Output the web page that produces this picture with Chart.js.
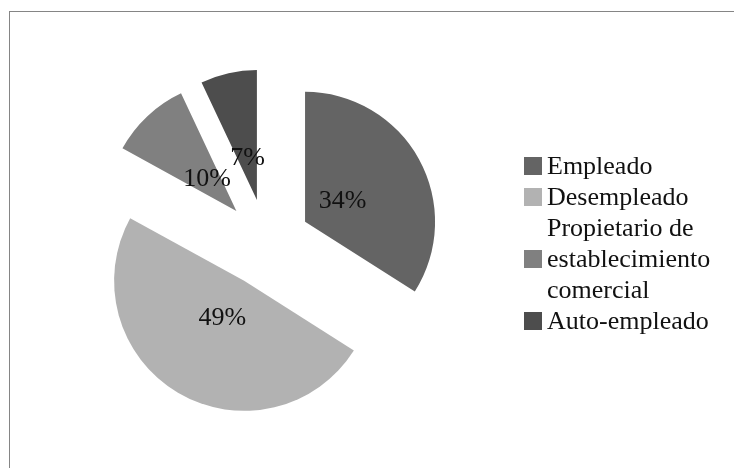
<!DOCTYPE html>
<html lang="es">

<head>
    <meta charset="UTF-8">
    <title>Ocupación</title>
    <script src="https://cdn.jsdelivr.net/npm/chart.js@4.4.1/dist/chart.umd.min.js"></script>
    <style>
        body {
            margin: 0;
            background: #fff;
            width: 734px;
            height: 468px;
            overflow: hidden;
            position: relative;
            font-family: "Liberation Serif", "Times New Roman", serif;
        }
        
        .frame {
            position: absolute;
            left: 9px;
            top: 11px;
            width: 800px;
            height: 500px;
            border: 1px solid #858585;
        }
        
        #pie {
            position: absolute;
            left: 0;
            top: 0;
        }
        
        .legend {
            position: absolute;
            left: 524px;
            top: 150px;
            font-size: 26px;
            line-height: 31px;
            color: #111;
        }
        
        .legend .item {
            display: flex;
            align-items: center;
        }
        
        .legend .box {
            width: 18px;
            height: 18px;
            flex: none;
            margin-right: 5px;
        }
        
        .legend .txt {
            width: 185px;
        }
    </style>
</head>

<body>
    <div class="frame"></div>
    <canvas id="pie" width="734" height="468"></canvas>
    <div class="legend" id="legend"></div>

    <script>
        const categories = ["Empleado", "Desempleado", "Propietario de establecimiento comercial", "Auto-empleado"];
        const shares = [34, 49, 10, 7];
        const colors = ["#646464", "#b2b2b2", "#808080", "#4d4d4d"];

        // how far each slice is pulled out of the pie, and where the % sits
        const EXPLODE = 44;
        const LABEL_R = 0.33;

        const explodePlugin = {
            id: 'explode',
            beforeDatasetDraw(chart, args) {
                const ctx = chart.ctx;
                args.meta.data.forEach(arc => {
                    const mid = (arc.startAngle + arc.endAngle) / 2;
                    ctx.save();
                    ctx.translate(Math.cos(mid) * EXPLODE, Math.sin(mid) * EXPLODE);
                    arc.draw(ctx);
                    ctx.restore();
                });
                return false;
            },
            afterDatasetsDraw(chart) {
                const ctx = chart.ctx;
                const meta = chart.getDatasetMeta(0);
                ctx.save();
                ctx.font = '26px "Liberation Serif", "Times New Roman", serif';
                ctx.fillStyle = '#111';
                ctx.textAlign = 'center';
                ctx.textBaseline = 'middle';
                meta.data.forEach((arc, i) => {
                    const mid = (arc.startAngle + arc.endAngle) / 2;
                    const d = EXPLODE + arc.outerRadius * LABEL_R;
                    ctx.fillText(shares[i] + '%', arc.x + Math.cos(mid) * d, arc.y + Math.sin(mid) * d);
                });
                ctx.restore();
            }
        };

        new Chart(document.getElementById("pie"), {
            type: 'pie',
            data: {
                labels: categories,
                datasets: [{
                    data: shares,
                    backgroundColor: colors,
                    borderWidth: 0
                }]
            },
            options: {
                responsive: false,
                animation: false,
                radius: 130,
                layout: {
                    padding: {
                        left: 20,
                        top: 20,
                        right: 221,
                        bottom: 2
                    }
                },
                plugins: {
                    legend: {
                        display: false
                    },
                    tooltip: {
                        enabled: false
                    }
                }
            },
            plugins: [explodePlugin]
        });

        // legend on the right, as html text
        const legend = document.getElementById('legend');
        categories.forEach((name, i) => {
            const item = document.createElement('div');
            item.className = 'item';
            item.innerHTML = '<span class="box" style="background:' + colors[i] + '"></span><span class="txt">' + name + '</span>';
            legend.appendChild(item);
        });
    </script>
</body>

</html>
